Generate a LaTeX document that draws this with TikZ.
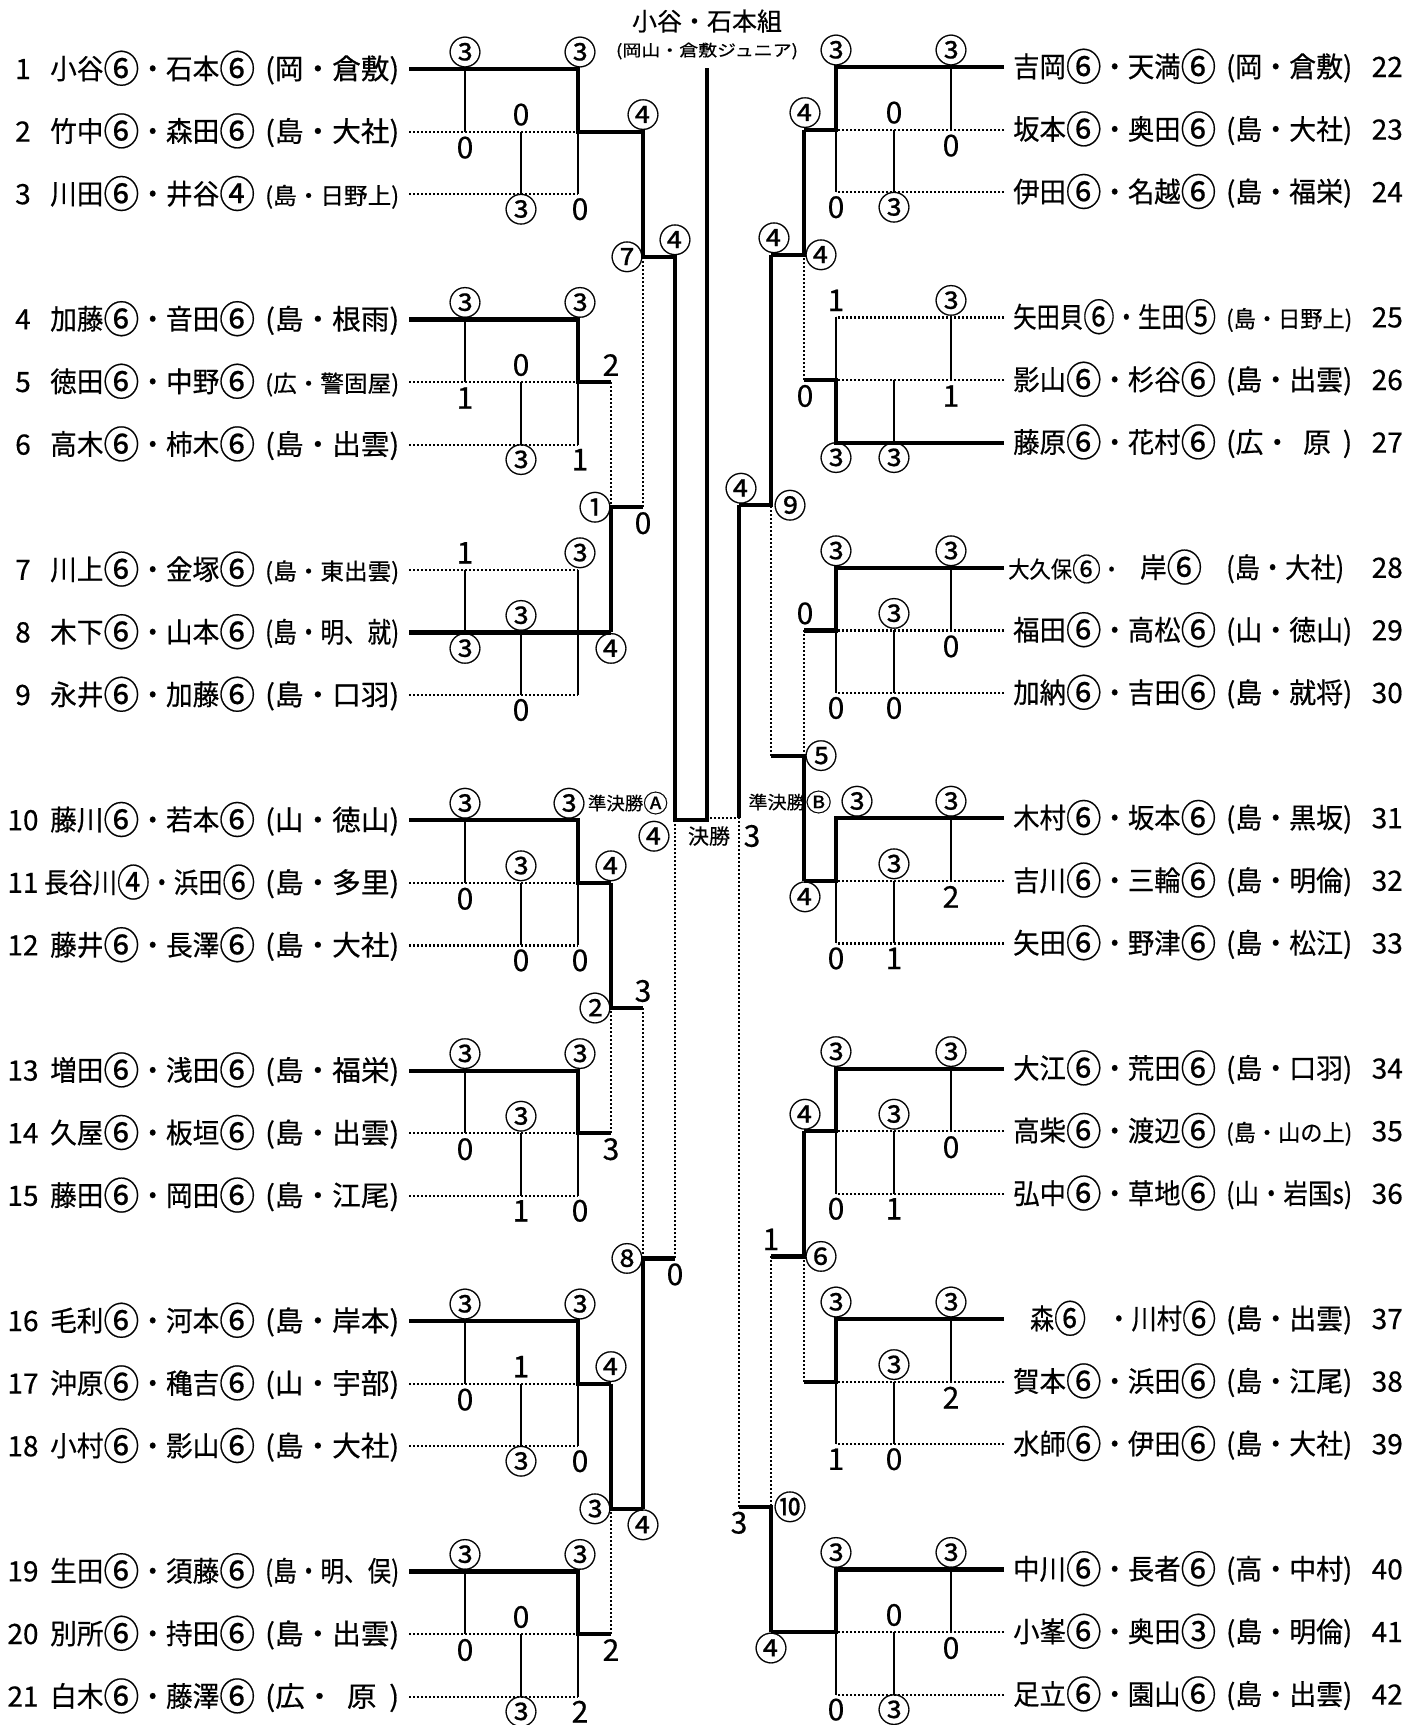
\documentclass[tikz,border=0pt]{standalone}
\usepackage{fontspec}
\usepackage{graphicx}
\setmainfont{Noto Sans CJK JP}[FakeBold=0.5]
\newcommand\nmfont{\fontsize{28}{30}\selectfont}
\newcommand\rgsmall{\fontsize{23}{25}\selectfont}
\newcommand\scfont{\fontsize{30}{31}\selectfont}
\newcommand\C[1]{{\fontsize{33}{34}\selectfont #1}}
\newcommand\fitw[2]{\resizebox{#1}{\height}{#2}}
% enlarged circled digit inside names
\newcommand\ci[1]{\raisebox{-0.13em}{\scalebox{1.35}{#1}}}
% left group lines: #1 group, #2 winner row (0,1,2), #3 end x
\newcommand\LG[3]{%
  \pgfmathsetmacro\ka{4*#1}
  \draw[thn] (465,{ly(\ka)}) -- (465,{ly(\ka+1)});
  \draw[thn] (521,{ly(\ka+1)}) -- (521,{ly(\ka+2)});
  \draw[thn] (578,{ly(\ka)}) -- (578,{ly(\ka+2)});
  \foreach \r in {0,1,2}{\ifnum\r=#2\relax\else\draw[los] (409,{ly(\ka+\r)}) -- (578,{ly(\ka+\r)});\fi}
  \draw[win] (409,{ly(\ka+#2)}) -- (578,{ly(\ka+#2)}) -- (578,{ly(\ka+1)}) -- (#3,{ly(\ka+1)});
}
\newcommand\RG[3]{%
  \pgfmathsetmacro\ka{4*#1}
  \draw[thn] (951,{ry(\ka)}) -- (951,{ry(\ka+1)});
  \draw[thn] (894,{ry(\ka+1)}) -- (894,{ry(\ka+2)});
  \draw[thn] (836,{ry(\ka)}) -- (836,{ry(\ka+2)});
  \foreach \r in {0,1,2}{\ifnum\r=#2\relax\else\draw[los] (1004,{ry(\ka+\r)}) -- (836,{ry(\ka+\r)});\fi}
  \draw[win] (1004,{ry(\ka+#2)}) -- (836,{ry(\ka+#2)}) -- (836,{ry(\ka+1)}) -- (#3,{ry(\ka+1)});
}
\newcommand\LS[7]{%
  \node[sc] (LS#1a) at (465,{ly(4*#1)-17}) {#2};
  \node[sc] (LS#1b) at (465,{ly(4*#1+1)+16}) {#3};
  \node[sc] (LS#1c) at (521,{ly(4*#1+1)-17}) {#4};
  \node[sc] (LS#1d) at (521,{ly(4*#1+2)+15}) {#5};
  \node[sc] (LS#1e) at (580,{ly(4*#1)-17}) {#6};
  \node[sc] (LS#1f) at (580,{ly(4*#1+2)+15}) {#7};
}
\newcommand\RS[7]{%
  \node[sc] (RS#1a) at (951,{ry(4*#1)-17}) {#2};
  \node[sc] (RS#1b) at (951,{ry(4*#1+1)+16}) {#3};
  \node[sc] (RS#1c) at (894,{ry(4*#1+1)-17}) {#4};
  \node[sc] (RS#1d) at (894,{ry(4*#1+2)+15}) {#5};
  \node[sc] (RS#1e) at (836,{ry(4*#1)-17}) {#6};
  \node[sc] (RS#1f) at (836,{ry(4*#1+2)+15}) {#7};
}
% names
\newcommand\LN[5]{%
  \node[nm,anchor=base] (Ln#1) at (23,{ly(#2)+10}) {#1};
  \node[nm,anchor=base west] (Lp#1) at (50,{ly(#2)+10}) {\fitw{205pt}{#3}};
  \node[nm,anchor=base west] (Lr#1) at (265,{ly(#2)+10}) {\fitw{134pt}{#5#4}};
}
\newcommand\RN[5]{%
  \node[nm,anchor=base west] (Rp#1) at (1013,{ry(#2)+10}) {\fitw{203pt}{#3}};
  \node[nm,anchor=base west] (Rr#1) at (1226,{ry(#2)+10}) {\fitw{126pt}{#5#4}};
  \node[nm,anchor=base east] (Rn#1) at (1403,{ry(#2)+10}) {#1};
}
\begin{document}
\begin{tikzpicture}[x=1pt,y=-1pt,
  declare function={ly(\k)=69+62.6*\k; ry(\k)=67+62.6*\k;},
  win/.style={line width=4.2pt},
  los/.style={line width=2.2pt,dash pattern=on 2pt off 2pt},
  thn/.style={line width=2pt},
  sc/.style={inner sep=0pt,font=\scfont},
  nm/.style={inner sep=0pt,font=\nmfont}]
\useasboundingbox[fill=white] (0,0) rectangle (1423,1725);

% ---------- title ----------
\node (title) at (707,21) {\fontsize{25}{27}\selectfont 小谷・石本組};
\node (subtitle) at (707,51) {\fitw{182pt}{\fontsize{16}{18}\selectfont (岡山・倉敷ジュニア)}};

% ---------- left groups ----------
\LG{0}{0}{643}
\LG{1}{0}{611}
\LG{2}{1}{611}
\LG{3}{0}{611}
\LG{4}{0}{611}
\LG{5}{0}{611}
\LG{6}{0}{611}

% left upper rounds
\draw[los] (611,{ly(5)}) -- (611,{ly(7)});
\draw[win] (611,{ly(9)}) -- (611,{ly(7)}) -- (643,{ly(7)});
\draw[win] (611,{ly(13)}) -- (611,{ly(15)}) -- (643,{ly(15)});
\draw[los] (611,{ly(17)}) -- (611,{ly(15)});
\draw[win] (611,{ly(21)}) -- (611,{ly(23)}) -- (643,{ly(23)});
\draw[los] (611,{ly(25)}) -- (611,{ly(23)});
\draw[los] (643,{ly(7)}) -- (643,{ly(3)});
\draw[los] (643,{ly(15)}) -- (643,{ly(19)});
\draw[win] (643,{ly(23)}) -- (643,{ly(19)}) -- (675,{ly(19)});
\draw[los] (675,{ly(19)}) -- (675,{ly(12)});
% champion path
\draw[win] (409,{ly(0)}) -- (578,{ly(0)}) -- (578,{ly(1)}) -- (643,{ly(1)}) -- (643,{ly(3)}) -- (675,{ly(3)}) -- (675,{ly(12)}) -- (707,{ly(12)}) -- (707,68);

% ---------- right groups ----------
\RG{0}{0}{804}
\RG{1}{2}{804}
\RG{2}{0}{804}
\RG{3}{0}{804}
\RG{4}{0}{804}
\RG{5}{0}{804}
\RG{6}{0}{771}

% right upper rounds
\draw[win] (804,{ry(1)}) -- (804,{ry(3)}) -- (771,{ry(3)});
\draw[los] (804,{ry(5)}) -- (804,{ry(3)});
\draw[los] (804,{ry(9)}) -- (804,{ry(11)});
\draw[win] (804,{ry(13)}) -- (804,{ry(11)}) -- (771,{ry(11)});
\draw[win] (771,{ry(3)}) -- (771,{ry(7)}) -- (739,{ry(7)});
\draw[los] (771,{ry(11)}) -- (771,{ry(7)});
\draw[win] (804,{ry(17)}) -- (804,{ry(19)}) -- (771,{ry(19)});
\draw[los] (804,{ry(21)}) -- (804,{ry(19)});
\draw[los] (771,{ry(19)}) -- (771,{ry(23)});
\draw[win] (771,{ry(25)}) -- (771,{ry(23)}) -- (739,{ry(23)});
\draw[win] (739,{ry(7)}) -- (739,{ry(12)});
\draw[los] (739,{ry(23)}) -- (739,{ry(12)}) -- (707,{ry(12)});

% ---------- group scores ----------
\LS{0}{\C③}{0}{0}{\C③}{\C③}{0}
\LS{1}{\C③}{1}{0}{\C③}{\C③}{1}
\LS{2}{1}{\C③}{\C③}{0}{\C③}{}
\LS{3}{\C③}{0}{\C③}{0}{}{0}
\node[sc] (LS3x) at (569,{ly(12)-17}) {\C③};
\LS{4}{\C③}{0}{\C③}{1}{\C③}{0}
\LS{5}{\C③}{0}{1}{\C③}{\C③}{0}
\LS{6}{\C③}{0}{0}{\C③}{\C③}{2}

\RS{0}{\C③}{0}{0}{\C③}{\C③}{0}
\RS{1}{\C③}{1}{}{\C③}{1}{\C③}
\RS{2}{\C③}{0}{\C③}{0}{\C③}{0}
\RS{3}{\C③}{2}{\C③}{1}{}{0}
\node[sc] (RS3x) at (857,{ry(12)-17}) {\C③};
\RS{4}{\C③}{0}{\C③}{1}{\C③}{0}
\RS{5}{\C③}{2}{\C③}{0}{\C③}{1}
\RS{6}{\C③}{0}{0}{\C③}{\C③}{0}

% ---------- upper-round labels, left ----------
\node[sc] (a1) at (643,{ly(1)-17}) {\C④};
\node[sc] (a2) at (627,{ly(3)}) {\C⑦};
\node[sc] (a3) at (675,{ly(3)-17}) {\C④};
\node[sc] (a4) at (611,{ly(5)-17}) {2};
\node[sc] (a5) at (595,{ly(7)}) {\C①};
\node[sc] (a6) at (643,{ly(7)+16}) {0};
\node[sc] (a7) at (611,{ly(9)+16}) {\C④};
\node[sc] (a8) at (611,{ly(13)-17}) {\C④};
\node[sc] (a9) at (595,{ly(15)}) {\C②};
\node[sc] (a10) at (643,{ly(15)-17}) {3};
\node[sc] (a11) at (611,{ly(17)+16}) {3};
\node[sc] (a12) at (627,{ly(19)}) {\C⑧};
\node[sc] (a13) at (675,{ly(19)+16}) {0};
\node[sc] (a14) at (611,{ly(21)-17}) {\C④};
\node[sc] (a15) at (595,{ly(23)}) {\C③};
\node[sc] (a16) at (643,{ly(23)+16}) {\C④};
\node[sc] (a17) at (611,{ly(25)+16}) {2};
\node[sc] (a18) at (654,{ly(12)+16}) {\C④};
\node[inner sep=0pt] (semA) at (628,803) {\fitw{80pt}{\fontsize{18}{20}\selectfont 準決勝\ci{Ⓐ}}};
\node[inner sep=0pt] (final) at (709,836) {\fontsize{21}{22}\selectfont 決勝};
\node[sc] (a19) at (752,836) {3};

% ---------- upper-round labels, right ----------
\node[sc] (b1) at (805,{ry(1)-17}) {\C④};
\node[sc] (b2) at (821,{ry(3)}) {\C④};
\node[sc] (b3) at (774,{ry(3)-17}) {\C④};
\node[sc] (b4) at (805,{ry(5)+16}) {0};
\node[sc] (b5) at (790,{ry(7)}) {\C⑨};
\node[sc] (b6) at (741,{ry(7)-17}) {\C④};
\node[sc] (b7) at (805,{ry(9)-17}) {0};
\node[sc] (b8) at (821,{ry(11)}) {\C⑤};
\node[sc] (b9) at (805,{ry(13)+16}) {\C④};
\node[sc] (b10) at (805,{ry(17)-17}) {\C④};
\node[sc] (b11) at (821,{ry(19)}) {\C⑥};
\node[sc] (b12) at (771,{ry(19)-17}) {1};
\node[sc] (b13) at (790,{ry(23)}) {\C⑩};
\node[sc] (b14) at (739,{ry(23)+16}) {3};
\node[sc] (b15) at (771,{ry(25)+16}) {\C④};
\node[inner sep=0pt] (semB) at (790,802) {\fitw{83pt}{\fontsize{18}{20}\selectfont 準決勝\ci{Ⓑ}}};

% ---------- names, left ----------
\LN{1}{0}{小谷\ci{⑥}・石本\ci{⑥}}{(岡・倉敷)}{}
\LN{2}{1}{竹中\ci{⑥}・森田\ci{⑥}}{(島・大社)}{}
\LN{3}{2}{川田\ci{⑥}・井谷\ci{④}}{(島・日野上)}{\rgsmall}
\LN{4}{4}{加藤\ci{⑥}・音田\ci{⑥}}{(島・根雨)}{}
\LN{5}{5}{徳田\ci{⑥}・中野\ci{⑥}}{(広・警固屋)}{\rgsmall}
\LN{6}{6}{高木\ci{⑥}・柿木\ci{⑥}}{(島・出雲)}{}
\LN{7}{8}{川上\ci{⑥}・金塚\ci{⑥}}{(島・東出雲)}{\rgsmall}
\LN{8}{9}{木下\ci{⑥}・山本\ci{⑥}}{(島・明、就)}{}
\LN{9}{10}{永井\ci{⑥}・加藤\ci{⑥}}{(島・口羽)}{}
\LN{10}{12}{藤川\ci{⑥}・若本\ci{⑥}}{(山・徳山)}{}
\node[nm,anchor=base] (Ln11) at (23,{ly(13)+10}) {11};
\node[nm,anchor=base west] (Lp11) at (44,{ly(13)+10}) {\fitw{211pt}{長谷川\ci{④}・浜田\ci{⑥}}};
\node[nm,anchor=base west] (Lr11) at (265,{ly(13)+10}) {\fitw{134pt}{(島・多里)}};
\LN{12}{14}{藤井\ci{⑥}・長澤\ci{⑥}}{(島・大社)}{}
\LN{13}{16}{増田\ci{⑥}・浅田\ci{⑥}}{(島・福栄)}{}
\LN{14}{17}{久屋\ci{⑥}・板垣\ci{⑥}}{(島・出雲)}{}
\LN{15}{18}{藤田\ci{⑥}・岡田\ci{⑥}}{(島・江尾)}{}
\LN{16}{20}{毛利\ci{⑥}・河本\ci{⑥}}{(島・岸本)}{}
\LN{17}{21}{沖原\ci{⑥}・穐吉\ci{⑥}}{(山・宇部)}{}
\LN{18}{22}{小村\ci{⑥}・影山\ci{⑥}}{(島・大社)}{}
\LN{19}{24}{生田\ci{⑥}・須藤\ci{⑥}}{(島・明、俣)}{}
\LN{20}{25}{別所\ci{⑥}・持田\ci{⑥}}{(島・出雲)}{}
\LN{21}{26}{白木\ci{⑥}・藤澤\ci{⑥}}{(広・\hspace{12pt}原\hspace{12pt})}{}

% ---------- names, right ----------
\RN{22}{0}{吉岡\ci{⑥}・天満\ci{⑥}}{(岡・倉敷)}{}
\RN{23}{1}{坂本\ci{⑥}・奥田\ci{⑥}}{(島・大社)}{}
\RN{24}{2}{伊田\ci{⑥}・名越\ci{⑥}}{(島・福栄)}{}
\RN{25}{4}{矢田貝\ci{⑥}・生田\ci{⑤}}{(島・日野上)}{\rgsmall}
\RN{26}{5}{影山\ci{⑥}・杉谷\ci{⑥}}{(島・出雲)}{}
\RN{27}{6}{藤原\ci{⑥}・花村\ci{⑥}}{(広・\hspace{12pt}原\hspace{12pt})}{}
\node[nm,anchor=base west] (Rp28a) at (1008,{ry(8)+10}) {\fitw{114pt}{\rgsmall 大久保\ci{⑥}・}};
\node[nm,anchor=base west] (Rp28b) at (1140,{ry(8)+10}) {\fitw{62pt}{岸\ci{⑥}}};
\node[nm,anchor=base west] (Rr28) at (1226,{ry(8)+10}) {\fitw{118pt}{(島・大社)}};
\node[nm,anchor=base east] (Rn28) at (1403,{ry(8)+10}) {28};
\RN{29}{9}{福田\ci{⑥}・高松\ci{⑥}}{(山・徳山)}{}
\RN{30}{10}{加納\ci{⑥}・吉田\ci{⑥}}{(島・就将)}{}
\RN{31}{12}{木村\ci{⑥}・坂本\ci{⑥}}{(島・黒坂)}{}
\RN{32}{13}{吉川\ci{⑥}・三輪\ci{⑥}}{(島・明倫)}{}
\RN{33}{14}{矢田\ci{⑥}・野津\ci{⑥}}{(島・松江)}{}
\RN{34}{16}{大江\ci{⑥}・荒田\ci{⑥}}{(島・口羽)}{}
\RN{35}{17}{高柴\ci{⑥}・渡辺\ci{⑥}}{(島・山の上)}{\rgsmall}
\RN{36}{18}{弘中\ci{⑥}・草地\ci{⑥}}{(山・岩国s)}{}
\node[nm,anchor=base west] (Rp37a) at (1030,{ry(20)+10}) {\fitw{56pt}{森\ci{⑥}}};
\node[nm,anchor=base west] (Rp37b) at (1106,{ry(20)+10}) {\fitw{110pt}{・川村\ci{⑥}}};
\node[nm,anchor=base west] (Rr37) at (1226,{ry(20)+10}) {\fitw{126pt}{(島・出雲)}};
\node[nm,anchor=base east] (Rn37) at (1403,{ry(20)+10}) {37};
\RN{38}{21}{賀本\ci{⑥}・浜田\ci{⑥}}{(島・江尾)}{}
\RN{39}{22}{水師\ci{⑥}・伊田\ci{⑥}}{(島・大社)}{}
\RN{40}{24}{中川\ci{⑥}・長者\ci{⑥}}{(高・中村)}{}
\RN{41}{25}{小峯\ci{⑥}・奥田\ci{③}}{(島・明倫)}{}
\RN{42}{26}{足立\ci{⑥}・園山\ci{⑥}}{(島・出雲)}{}
\end{tikzpicture}
\end{document}
